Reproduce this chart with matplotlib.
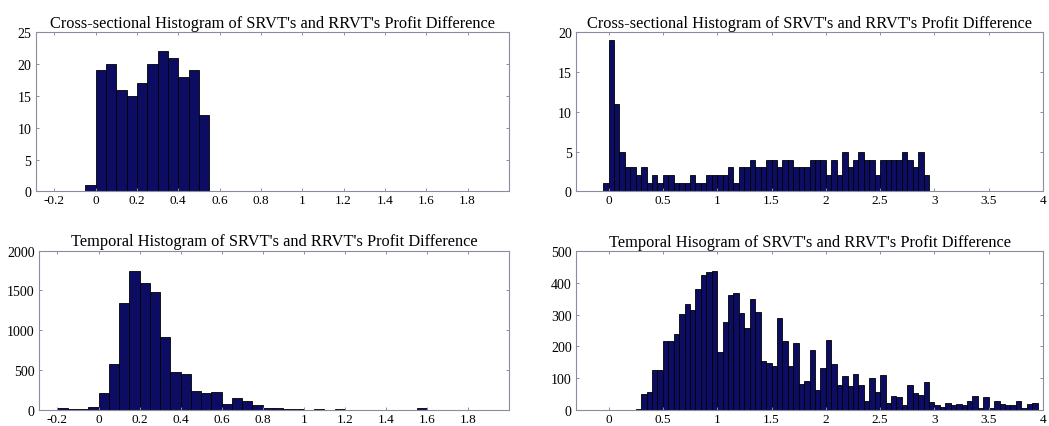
import matplotlib
matplotlib.use("Agg")
import matplotlib.pyplot as plt
import numpy as np

# bin width of all four histograms
bin_w = 0.05

# cross-sectional, left (first bin starts at -0.05)
cs_left_start = -0.05
cs_left_counts = [1, 19, 20, 16, 15, 17, 20, 22, 21, 18, 19, 12]

# cross-sectional, right (first bin starts at -0.05)
cs_right_start = -0.05
cs_right_counts = [1, 19, 11, 5, 3, 3, 2, 3, 1, 2,
                   1, 2, 2, 1, 1, 1, 2, 1, 1, 2,
                   2, 2, 2, 3, 1, 3, 3, 4, 3, 3,
                   4, 4, 3, 4, 4, 3, 3, 3, 4, 4,
                   4, 2, 4, 2, 5, 3, 4, 5, 4, 4,
                   2, 4, 4, 4, 4, 5, 4, 3, 5, 2]

# temporal, left (first bin starts at -0.2)
tp_left_start = -0.2
tp_left_counts = [25, 4, 4, 34, 205, 570, 1345, 1748, 1589, 1484,
                  910, 478, 453, 230, 205, 226, 75, 151, 113, 54,
                  22, 22, 14, 12, 0, 10, 0, 4, 0, 0,
                  0, 0, 0, 0, 0, 20]

# temporal, right (first bin starts at 0.25)
tp_right_start = 0.25
tp_right_counts = [3, 51, 57, 124, 125, 216, 216, 240, 303, 333,
                   316, 382, 425, 436, 437, 182, 276, 361, 368, 305,
                   258, 350, 310, 155, 149, 139, 289, 216, 137, 210,
                   80, 91, 190, 61, 131, 219, 143, 78, 108, 74,
                   113, 77, 27, 99, 57, 111, 22, 44, 39, 16,
                   78, 52, 45, 86, 25, 16, 10, 21, 15, 18,
                   14, 26, 43, 7, 41, 4, 28, 18, 15, 15,
                   28, 4, 17, 20]

title_cs = "Cross-sectional Histogram of SRVT's and RRVT's Profit Difference"
title_tl = "Temporal Histogram of SRVT's and RRVT's Profit Difference"
title_tr = "Temporal Hisogram of SRVT's and RRVT's Profit Difference"

ticks_left = [-0.2, 0, 0.2, 0.4, 0.6, 0.8, 1, 1.2, 1.4, 1.6, 1.8]
ticks_left_lbl = ["-0.2", "0", "0.2", "0.4", "0.6", "0.8", "1", "1.2", "1.4", "1.6", "1.8"]
ticks_right = [0, 0.5, 1, 1.5, 2, 2.5, 3, 3.5, 4]
ticks_right_lbl = ["0", "0.5", "1", "1.5", "2", "2.5", "3", "3.5", "4"]

plt.rcParams['font.family'] = ['Liberation Serif', 'DejaVu Serif']

bar_color = '#0c0c62'
axis_color = '#8c8ca0'


def draw_hist(ax, start, counts, title, xlim, xticks, xlabels, yticks):
    counts = np.asarray(counts)
    edges = start + bin_w * np.arange(len(counts))
    ax.bar(edges, counts, width=bin_w, align='edge', color=bar_color,
           edgecolor='black', linewidth=0.6)
    ax.set_xlim(*xlim)
    ax.set_ylim(yticks[0], yticks[-1])
    ax.set_xticks(xticks)
    ax.set_xticklabels(xlabels)
    ax.set_yticks(yticks)
    ax.set_yticklabels([str(v) for v in yticks])
    ax.tick_params(direction='in', length=2.5, width=0.7, color=axis_color,
                   top=True, right=True, labelsize=10, pad=3)
    ax.tick_params(axis='x', labelsize=9.5, pad=2)
    for s in ax.spines.values():
        s.set_color(axis_color)
        s.set_linewidth(0.8)
    ax.set_title(title, fontsize=11.8, pad=4)


fig = plt.figure(figsize=(10.49, 4.27), dpi=100)

ax1 = fig.add_axes([0.034, 0.5496, 0.4512, 0.3724])
draw_hist(ax1, cs_left_start, cs_left_counts, title_cs, (-0.29, 2.0),
          ticks_left, ticks_left_lbl, [0, 5, 10, 15, 20, 25])

ax2 = fig.add_axes([0.5491, 0.5496, 0.4452, 0.3724])
draw_hist(ax2, cs_right_start, cs_right_counts, title_cs, (-0.3, 4.0),
          ticks_right, ticks_right_lbl, [0, 5, 10, 15, 20])

ax3 = fig.add_axes([0.0372, 0.0381, 0.448, 0.3724])
draw_hist(ax3, tp_left_start, tp_left_counts, title_tl, (-0.29, 2.0),
          ticks_left, ticks_left_lbl, [0, 500, 1000, 1500, 2000])

ax4 = fig.add_axes([0.5491, 0.0381, 0.4452, 0.371])
draw_hist(ax4, tp_right_start, tp_right_counts, title_tr, (-0.3, 4.0),
          ticks_right, ticks_right_lbl, [0, 100, 200, 300, 400, 500])

fig.savefig("out.png", dpi=100)
